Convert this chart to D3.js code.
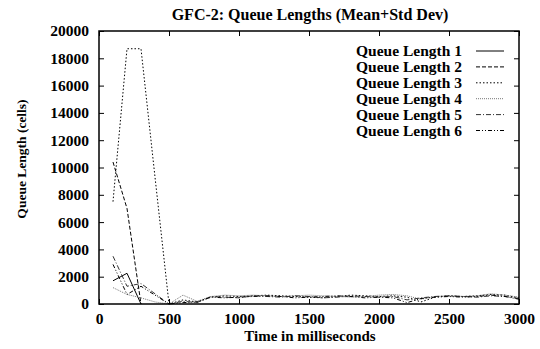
<!DOCTYPE html>
<html><head><meta charset="utf-8">
<script src="https://cdn.jsdelivr.net/npm/d3@7"></script>
<style>body{margin:0;background:#fff}text{font-family:"Liberation Serif","Times New Roman",serif;font-weight:bold}</style>
</head><body><svg id="c" width="540" height="349"></svg>
<script>
const title = "GFC-2: Queue Lengths (Mean+Std Dev)";
const xLabel = "Time in milliseconds";
const yLabel = "Queue Length (cells)";
const xTicks = [0,500,1000,1500,2000,2500,3000];
const yTicks = [0,2000,4000,6000,8000,10000,12000,14000,16000,18000,20000];
const seriesNames = ["Queue Length 1","Queue Length 2","Queue Length 3","Queue Length 4","Queue Length 5","Queue Length 6"];
const tLate = [600,700,800,900,1000,1100,1200,1300,1400,1500,1600,1700,1800,1900,2000,2100,2200,2300,2400,2500,2600,2700,2800,2900,3000];
const q1T = [100,200,300];
const q1 = [1700,2250,0];
const q2T = [100,200,300];
const q2 = [10400,7000,0];
const qEarlyT = [100,200,300,400,500];
const q3 = [7500,18700,18700,9300,0, 300,150,500,600,550,600,650,600,550,500,450,550,650,600,550,600,500,150,500,600,550,600,700,650,450];
const q4 = [1200,700,450,150,0, 650,200,550,650,600,650,600,550,600,650,600,550,500,550,650,700,600,350,550,600,550,600,750,650,500];
const q5 = [3500,1300,1500,750,0, 200,100,550,500,450,600,550,500,600,550,450,500,600,550,500,550,300,450,550,600,550,500,600,550,400];
const q6 = [2900,700,1300,650,0, 100,150,500,450,500,550,600,550,450,500,550,600,550,450,500,450,100,400,500,550,500,550,650,550,350];

const svg = d3.select("#c");
const m = {l:99, r:519, t:31, b:304};
const x = d3.scaleLinear().domain([0,3000]).range([m.l,m.r]);
const y = d3.scaleLinear().domain([0,20000]).range([m.b,m.t]);

const lateT = qEarlyT.concat(tLate);
const series = [
  {t:q1T, v:q1, dash:null, color:"#000"},
  {t:q2T, v:q2, dash:"4,2", color:"#000"},
  {t:lateT, v:q3, dash:"1.5,2", color:"#000"},
  {t:lateT, v:q4, dash:"1,1", color:"#777"},
  {t:lateT, v:q5, dash:"5,2,1,2", color:"#333"},
  {t:lateT, v:q6, dash:"4,2,1,2,1,2", color:"#000"}
];

const line = d3.line().x(d=>x(d[0])).y(d=>y(d[1]));
const g = svg.append("g");
series.forEach(s=>{
  g.append("path").datum(s.t.map((t,i)=>[t,s.v[i]]))
   .attr("d",line).attr("fill","none").attr("stroke",s.color)
   .attr("stroke-width",1).attr("stroke-dasharray",s.dash);
});

// axes
const tl = 5;
const fs = 15.5;
const xb = svg.append("g").attr("transform",`translate(0,${m.b})`)
  .call(d3.axisBottom(x).tickValues(xTicks).tickSize(-tl).tickPadding(9).tickFormat(d3.format("d")));
const xt = svg.append("g").attr("transform",`translate(0,${m.t})`)
  .call(d3.axisTop(x).tickValues(xTicks).tickSize(-tl).tickFormat(""));
const yl = svg.append("g").attr("transform",`translate(${m.l},0)`)
  .call(d3.axisLeft(y).tickValues(yTicks).tickSize(-tl).tickPadding(10).tickFormat(d3.format("d")));
const yr = svg.append("g").attr("transform",`translate(${m.r},0)`)
  .call(d3.axisRight(y).tickValues(yTicks).tickSize(-tl).tickFormat(""));
[xb,xt,yl,yr].forEach(a=>{a.select(".domain").remove();a.selectAll("line").attr("stroke","#000");
  a.selectAll("text").attr("font-size",fs).attr("fill","#000").style("font-family",'"Liberation Serif",serif').style("font-weight","bold");});
xb.selectAll("text").attr("dy","0.71em");
svg.append("rect").attr("x",m.l).attr("y",m.t).attr("width",m.r-m.l).attr("height",m.b-m.t)
  .attr("fill","none").attr("stroke","#000").attr("stroke-width",1.5);

svg.append("text").attr("x",310).attr("y",20).attr("text-anchor","middle").attr("font-size",16).text(title);
svg.append("text").attr("x",310).attr("y",341).attr("text-anchor","middle").attr("font-size",15).text(xLabel);
svg.append("text").attr("transform","translate(26,159) rotate(-90)").attr("text-anchor","middle").attr("font-size",13.5).text(yLabel);

// legend
const leg = svg.append("g");
series.forEach((s,i)=>{
  const yy = 51 + i*15.9;
  leg.append("text").attr("x",462).attr("y",yy).attr("dy","0.35em").attr("text-anchor","end").attr("font-size",fs).text(seriesNames[i]);
  leg.append("line").attr("x1",476).attr("x2",504).attr("y1",yy).attr("y2",yy)
    .attr("stroke",s.color).attr("stroke-width",1).attr("stroke-dasharray",s.dash);
});
</script></body></html>
